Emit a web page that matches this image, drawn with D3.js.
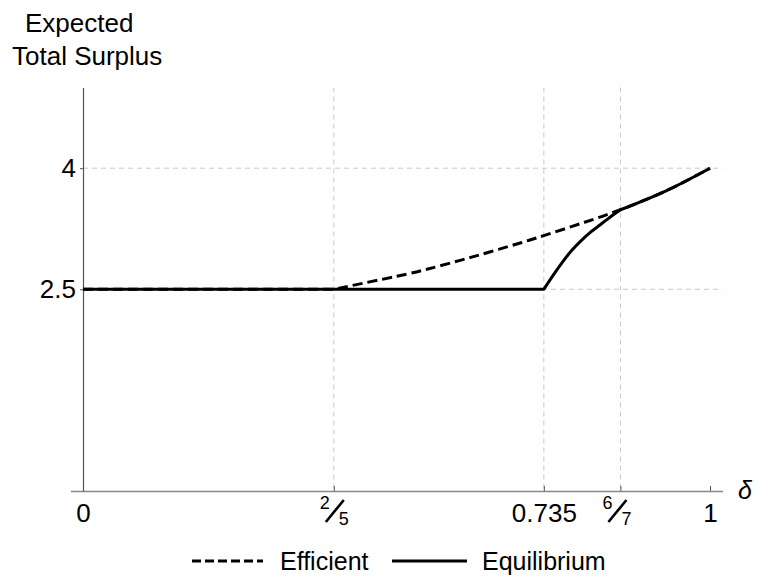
<!DOCTYPE html>
<html>
<head>
<meta charset="utf-8">
<script src="https://cdn.jsdelivr.net/npm/d3@7"></script>
<style>
  html, body { margin: 0; padding: 0; background: #fff; }
  svg { display: block; font-family: "Liberation Sans", Arial, sans-serif; }
</style>
</head>
<body>
<script>
// ---------- data ----------
const xTicks = [0, 0.4, 0.735, 6 / 7, 1];
const xTickLabels = ["0", "2/5", "0.735", "6/7", "1"];
const xGrid = [0.4, 0.735, 6 / 7];
const yTicks = [2.5, 4];
const yTickLabels = ["2.5", "4"];
const seriesNames = ["Efficient", "Equilibrium"];

const effDelta = [0, 0.4, 0.5, 0.55, 0.6, 0.65, 0.7, 0.735, 0.8, 6 / 7, 0.93, 1];
const effValue = [2.5, 2.5, 2.66, 2.75, 2.855, 2.965, 3.08, 3.165, 3.33, 3.485, 3.72, 4.0];
const effBreaks = [0.4];

const eqDelta = [0, 0.4, 0.735, 0.75, 0.765, 0.78, 0.795, 0.81, 0.825, 0.84, 6 / 7, 0.93, 1];
const eqValue = [2.5, 2.5, 2.5, 2.675, 2.84, 2.985, 3.105, 3.21, 3.30, 3.39, 3.485, 3.72, 4.0];
const eqBreaks = [0.735, 6 / 7];

// ---------- layout ----------
const W = 759, H = 582;
const svg = d3.select("body").append("svg").attr("width", W).attr("height", H);

const x = d3.scaleLinear().domain([-0.02, 1.02]).range([83 - 0.02 * 627, 710 + 0.02 * 627]);
const y = d3.scaleLinear().domain([0, 5]).range([491, 87.5]);

// grid
svg.append("g").selectAll("line").data(xGrid).join("line")
  .attr("x1", d => x(d)).attr("x2", d => x(d))
  .attr("y1", y(5)).attr("y2", y(0))
  .attr("stroke", "#c8c8c8").attr("stroke-width", 1).attr("stroke-dasharray", "5,4");
svg.append("g").selectAll("line").data(yTicks).join("line")
  .attr("x1", x(0)).attr("x2", x(1.02))
  .attr("y1", d => y(d)).attr("y2", d => y(d))
  .attr("stroke", "#c8c8c8").attr("stroke-width", 1).attr("stroke-dasharray", "5,4");

// x axis
const xAxis = d3.axisBottom(x).tickValues(xTicks).tickSizeInner(-5).tickSizeOuter(0)
  .tickPadding(13).tickFormat((d, i) => xTickLabels[i].includes("/") ? "" : xTickLabels[i]);
const gx = svg.append("g").attr("transform", `translate(0,${y(0)})`).call(xAxis);
gx.select(".domain").attr("stroke", "#888").attr("stroke-width", 1.6);
gx.selectAll(".tick line").attr("stroke", "#555");
gx.selectAll(".tick text").attr("font-size", 26).attr("fill", "#000")
  .attr("font-family", "Liberation Sans, Arial, sans-serif");

// fraction labels
const fracShift = { "2/5": 0, "6/7": -4 };
xTicks.forEach((v, i) => {
  const lab = xTickLabels[i];
  if (!lab.includes("/")) return;
  const [num, den] = lab.split("/");
  const cx = x(v) + fracShift[lab];
  const g = svg.append("g").attr("font-size", 18).attr("fill", "#000");
  g.append("text").attr("x", cx - 9).attr("y", y(0) + 18).attr("text-anchor", "middle").text(num);
  g.append("line").attr("x1", cx - 8).attr("y1", y(0) + 31).attr("x2", cx + 10).attr("y2", y(0) + 9)
    .attr("stroke", "#000").attr("stroke-width", 2.6);
  g.append("text").attr("x", cx + 10).attr("y", y(0) + 34).attr("text-anchor", "middle").text(den);
});

// y axis
const yAxis = d3.axisLeft(y).tickValues(yTicks).tickSizeInner(3).tickSizeOuter(0)
  .tickPadding(4).tickFormat((d, i) => yTickLabels[i]);
const gy = svg.append("g").attr("transform", `translate(${x(0)},0)`).call(yAxis);
gy.select(".domain").attr("stroke", "#555").attr("stroke-width", 1.2);
gy.selectAll(".tick line").attr("stroke", "#555");
gy.selectAll(".tick text").attr("font-size", 26).attr("fill", "#000")
  .attr("font-family", "Liberation Sans, Arial, sans-serif");

// axis labels
svg.append("text").attr("x", 25).attr("y", 32).attr("font-size", 26).text("Expected");
svg.append("text").attr("x", 12).attr("y", 65).attr("font-size", 26).text("Total Surplus");
svg.append("text").attr("x", 738).attr("y", 499).attr("font-size", 25)
  .attr("font-style", "italic").text("δ");

// ---------- series ----------
function buildPath(ds, vs, breaks) {
  const pts = ds.map((d, i) => [d, vs[i]]);
  const cuts = [0, ...breaks.map(b => ds.findIndex(d => Math.abs(d - b) < 1e-9)), ds.length - 1];
  const line = d3.line().x(p => x(p[0])).y(p => y(p[1])).curve(d3.curveNatural);
  let s = "";
  for (let k = 0; k < cuts.length - 1; k++) {
    const seg = pts.slice(cuts[k], cuts[k + 1] + 1);
    let p = line(seg);
    if (k > 0) p = "L" + p.slice(1);
    s += p;
  }
  return s;
}

svg.append("path").attr("d", buildPath(effDelta, effValue, effBreaks))
  .attr("fill", "none").attr("stroke", "#000").attr("stroke-width", 3)
  .attr("stroke-dasharray", "10,5");
svg.append("path").attr("d", buildPath(eqDelta, eqValue, eqBreaks))
  .attr("fill", "none").attr("stroke", "#000").attr("stroke-width", 3)
  .attr("stroke-linejoin", "round");

// ---------- legend ----------
const legend = svg.append("g").attr("font-size", 25);
const legItems = [
  { x0: 192, x1: 263, tx: 280, dash: "9,4" },
  { x0: 392, x1: 467, tx: 482, dash: null }
];
legItems.forEach((it, i) => {
  legend.append("line").attr("x1", it.x0).attr("x2", it.x1).attr("y1", 561).attr("y2", 561)
    .attr("stroke", "#000").attr("stroke-width", 3.2).attr("stroke-dasharray", it.dash);
  legend.append("text").attr("x", it.tx).attr("y", 570).text(seriesNames[i]);
});
</script>
</body>
</html>
